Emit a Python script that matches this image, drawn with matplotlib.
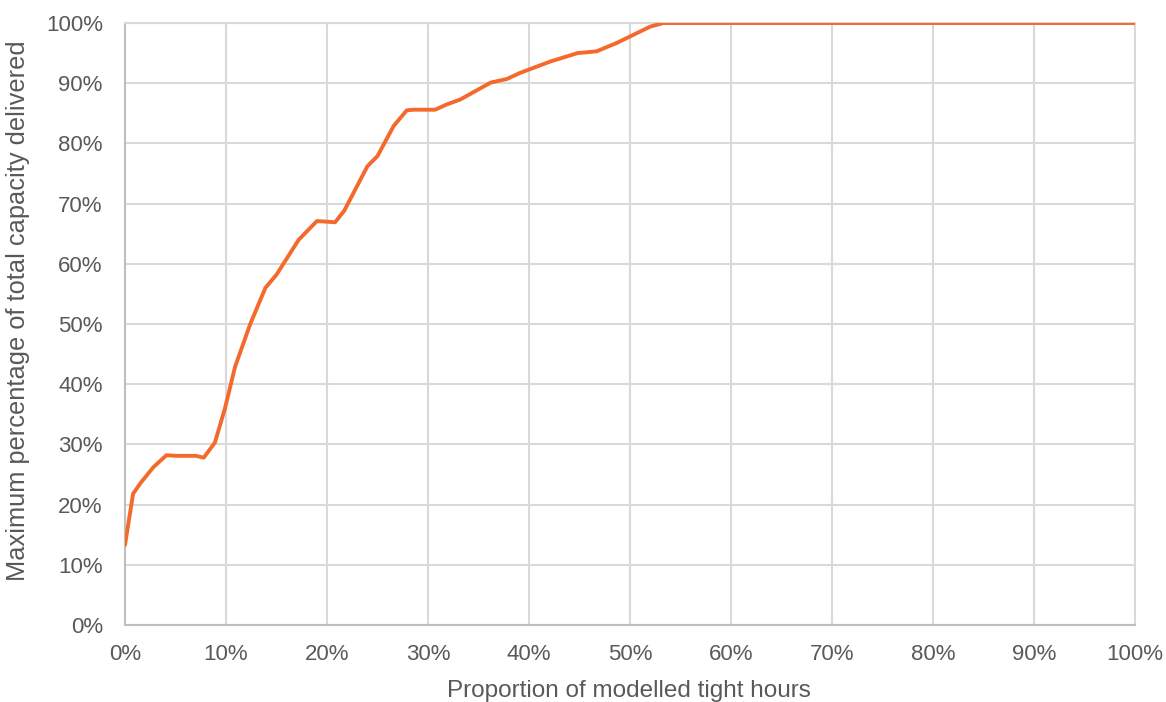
"""Capacity delivered against share of tight hours."""

import matplotlib

matplotlib.use("Agg")
import matplotlib.pyplot as plt
from matplotlib.ticker import PercentFormatter

# proportion of modelled tight hours (%) and max share of capacity delivered (%)
tight_hours = [
    0.0, 0.8, 1.5, 2.8, 4.1, 5.1, 7.0, 7.8, 8.9, 9.9, 10.9, 12.4, 13.9,
    15.0, 17.2, 19.0, 20.0, 20.8, 21.7, 24.0, 25.0, 26.6, 27.9, 28.6,
    30.7, 31.9, 33.2, 36.2, 37.8, 39.1, 42.1, 44.8, 46.7, 48.7, 52.0,
    53.3, 60.0, 70.0, 80.0, 90.0, 100.0,
]
capacity = [
    13.3, 21.8, 23.5, 26.2, 28.2, 28.1, 28.1, 27.8, 30.3, 36.0, 42.9, 50.0,
    56.0, 58.2, 64.0, 67.1, 67.0, 66.9, 68.8, 76.2, 77.9, 82.9, 85.5, 85.6,
    85.6, 86.5, 87.3, 90.1, 90.7, 91.7, 93.6, 95.0, 95.3, 96.7, 99.4,
    100.0, 100.0, 100.0, 100.0, 100.0, 100.0,
]

x_ticks = list(range(0, 101, 10))
y_ticks = list(range(0, 101, 10))

plt.rcParams["font.family"] = ["Liberation Sans", "DejaVu Sans"]

fig = plt.figure(figsize=(11.66, 7.02), dpi=100)
ax = fig.add_axes([0.1072, 0.1097, 0.8662, 0.8575])

ax.plot(tight_hours, capacity, color="#F36A2C", linewidth=2.8,
        solid_joinstyle="round", solid_capstyle="round", zorder=3)

ax.set_xlim(0, 100)
ax.set_ylim(0, 100)
ax.set_xticks(x_ticks)
ax.set_yticks(y_ticks)
ax.xaxis.set_major_formatter(PercentFormatter(decimals=0))
ax.yaxis.set_major_formatter(PercentFormatter(decimals=0))
ax.tick_params(length=0, labelsize=16, labelcolor="#595959")
ax.tick_params(axis="x", pad=14)
ax.tick_params(axis="y", pad=16)

ax.grid(color="#D9D9D9", linewidth=1.5)
ax.set_axisbelow(True)
for side in ["top", "right"]:
    ax.spines[side].set_color("#D9D9D9")
    ax.spines[side].set_linewidth(1.5)
for side in ["left", "bottom"]:
    ax.spines[side].set_color("#BFBFBF")
    ax.spines[side].set_linewidth(1.5)

ax.set_xlabel("Proportion of modelled tight hours", fontsize=17.5,
              color="#595959")
ax.set_ylabel("Maximum percentage of total capacity delivered", fontsize=18.3,
              color="#595959")
ax.xaxis.set_label_coords(0.499, -0.091)
ax.yaxis.set_label_coords(-0.094, 0.522)

fig.savefig("out.png", dpi=100)
